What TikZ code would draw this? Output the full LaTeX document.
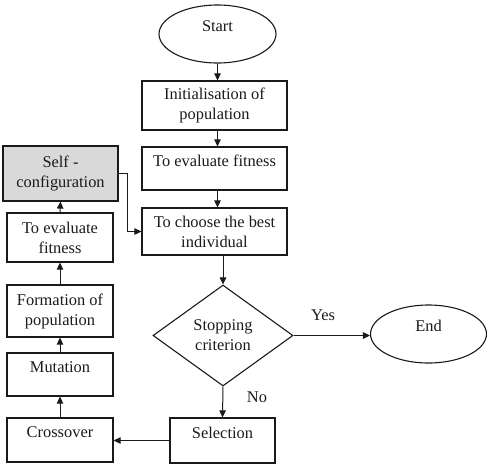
\documentclass[tikz,border=0pt]{standalone}
\usepackage{fontspec}
\setmainfont{Liberation Serif}
\newfontfamily\tnrfont{Liberation Serif}
\usetikzlibrary{shapes.geometric,arrows.meta}
\definecolor{ink}{HTML}{1A1A1A}
\definecolor{selfgray}{HTML}{D9D9D9}
\begin{document}
\begin{tikzpicture}[x=1pt,y=-1pt,
  every node/.style={font=\tnrfont\fontsize{16.4}{20}\selectfont, text=ink, inner sep=0pt},
  box/.style={draw=ink, line width=1.2pt, rectangle, align=center},
  oneline/.style={align=none, text height=12pt, text depth=17pt},
  oval/.style={draw=ink, line width=1.1pt, ellipse},
  arr/.style={draw=ink, line width=1pt, -{Triangle[length=7pt,width=6.5pt]}},
  txt/.style={font=\tnrfont\fontsize{16.4}{20}\selectfont}
]
\useasboundingbox (0,0) rectangle (487,472);
% right column
\node[oval, oneline, minimum width=117pt, minimum height=58pt] (start) at (217.5,34) {Start};
\node[box, minimum width=145pt, minimum height=49pt] (init) at (214.5,105.5) {Initialisation of\\population};
\node[box, oneline, minimum width=145pt, minimum height=43pt] (eval) at (214.5,168.5) {To evaluate fitness};
\node[box, minimum width=145pt, minimum height=47pt] (choose) at (214.5,231.5) {To choose the best\\individual};
\node[draw=ink, line width=1.1pt, diamond, align=center, minimum width=140pt, minimum height=101pt] (dia) at (223,335.5) {Stopping\\criterion};
\node[oval, oneline, minimum width=116pt, minimum height=58pt] (endn) at (428.5,334) {End};
\node[box, oneline, minimum width=105pt, minimum height=45pt] (sel) at (222.5,440.5) {Selection};
% left column
\node[box, fill=selfgray, minimum width=115pt, minimum height=55pt] (self) at (60.5,173.5) {Self -\\configuration};
\node[box, minimum width=106pt, minimum height=49pt] (leval) at (60,237.5) {To evaluate\\fitness};
\node[box, minimum width=106pt, minimum height=52pt] (form) at (60,311) {Formation of\\population};
\node[box, oneline, minimum width=106pt, minimum height=43pt] (mut) at (60,374.5) {Mutation};
\node[box, oneline, minimum width=106pt, minimum height=44pt] (cross) at (60,440) {Crossover};
% labels
\node[txt] (yes) at (323,315) {Yes};
\node[txt] (no) at (257,397) {No};
% connectors
\draw[arr] (start.south) -- (start.south |- init.north);
\draw[arr] (start.south |- init.south) -- (start.south |- eval.north);
\draw[arr] (start.south |- eval.south) -- (start.south |- choose.north);
\draw[arr] (dia.north |- choose.south) -- (dia.north);
\draw[arr] (dia.east) -- (dia.east -| endn.west);
\draw[arr] (dia.south) -- (sel.north);
\draw[arr] (sel.west) -- (sel.west -| cross.east);
\draw[arr] (cross.north) -- (mut.south);
\draw[arr] (mut.north) -- (form.south);
\draw[arr] (form.north) -- (leval.south);
\draw[arr] (leval.north) -- (self.south);
\draw[arr] (self.east) -- ++(9,0) |- (choose.west);
\end{tikzpicture}
\end{document}
